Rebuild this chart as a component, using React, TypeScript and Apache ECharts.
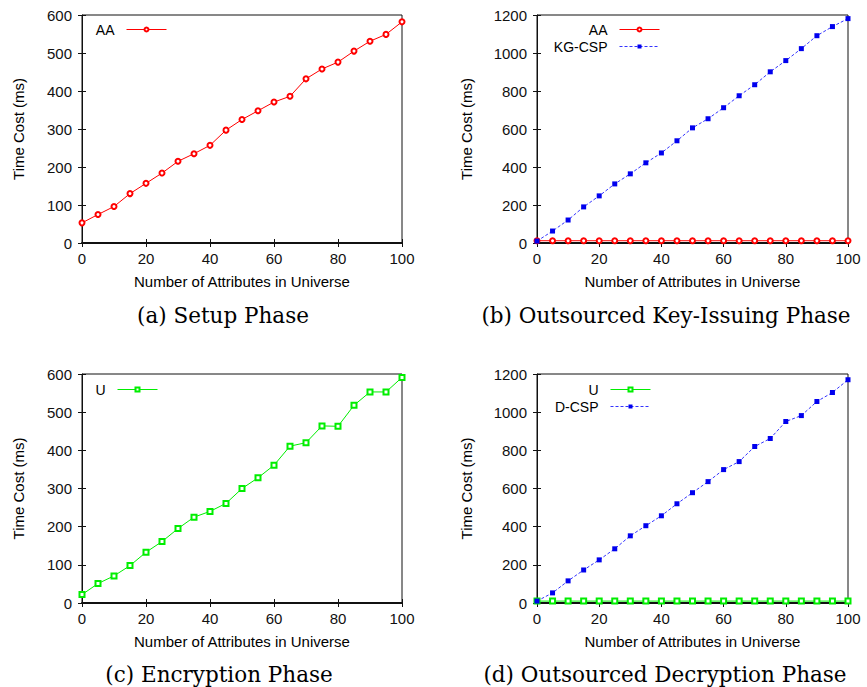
import React, { useEffect, useRef } from "react";
import * as echarts from "echarts";

const xs = [0, 5, 10, 15, 20, 25, 30, 35, 40, 45, 50, 55, 60, 65, 70, 75, 80, 85, 90, 95, 100];
const setupAA = [53, 75, 96, 130, 157, 184, 215, 235, 257, 297, 325, 348, 371, 386, 432, 458, 476, 505, 531, 549, 582];
const keyAA = [12, 12, 12, 12, 12, 12, 12, 12, 12, 12, 12, 12, 12, 12, 12, 12, 12, 12, 12, 12, 12];
const keyKG = [10, 63, 121, 190, 248, 311, 364, 422, 474, 538, 606, 654, 712, 775, 833, 901, 960, 1023, 1091, 1139, 1181];
const encU = [22, 51, 71, 98, 133, 161, 195, 225, 240, 261, 300, 328, 361, 411, 420, 464, 463, 518, 553, 553, 591];
const decU = [10, 10, 10, 10, 10, 10, 10, 10, 10, 10, 10, 10, 10, 10, 10, 10, 10, 10, 10, 10, 10];
const decD = [10, 53, 116, 173, 226, 284, 352, 405, 457, 520, 578, 636, 699, 741, 820, 862, 951, 982, 1056, 1103, 1170];
const captions = ["(a) Setup Phase", "(b) Outsourced Key-Issuing Phase", "(c) Encryption Phase", "(d) Outsourced Decryption Phase"];
const xTitle = "Number of Attributes in Universe";
const yTitle = "Time Cost (ms)";

const SANS = "Liberation Sans, Arial, Helvetica, sans-serif";

const pairs = (ys: number[]) => xs.map((x, i) => [x, ys[i]]);

export default function App() {
  const ref = useRef<HTMLDivElement>(null);
  useEffect(() => {
    document.body.style.margin = "0";
    const chart = echarts.init(ref.current!, null, { renderer: "svg" });
    const grids = [
      { left: 82, top: 15, width: 320, height: 228, ymax: 600, yint: 100, ygap: 56, cap: [223, 315] },
      { left: 537, top: 15, width: 311, height: 228, ymax: 1200, yint: 200, ygap: 63, cap: [666, 315] },
      { left: 82, top: 374, width: 320, height: 229, ymax: 600, yint: 100, ygap: 56, cap: [219, 674] },
      { left: 537, top: 374, width: 311, height: 229, ymax: 1200, yint: 200, ygap: 63, cap: [665, 674] },
    ];
    const xAxis: any[] = [];
    const yAxis: any[] = [];
    grids.forEach((g, i) => {
      xAxis.push({
        type: "value", gridIndex: i, min: 0, max: 100, interval: 20, position: "bottom",
        name: xTitle, nameLocation: "middle", nameGap: 31,
        nameTextStyle: { fontSize: 15, fontFamily: SANS, color: "#000" },
        axisLine: { show: true, lineStyle: { color: "#111", width: 2 } },
        axisTick: { show: true, inside: true, length: 4, lineStyle: { color: "#111" } },
        axisLabel: { fontSize: 15, fontFamily: SANS, color: "#111", margin: 8, formatter: (v: number) => String(v) },
        splitLine: { show: false },
      });
      xAxis.push({
        type: "value", gridIndex: i, min: 0, max: 100, interval: 20, position: "top",
        axisLine: { show: false },
        axisTick: { show: true, inside: true, length: 4, lineStyle: { color: "#111" } },
        axisLabel: { show: false }, splitLine: { show: false },
      });
      yAxis.push({
        type: "value", gridIndex: i, min: 0, max: g.ymax, interval: g.yint, position: "left",
        name: yTitle, nameLocation: "middle", nameGap: g.ygap,
        nameTextStyle: { fontSize: 15, fontFamily: SANS, color: "#000" },
        axisLine: { show: true, lineStyle: { color: "#111", width: 1 } },
        axisTick: { show: true, inside: true, length: 4, lineStyle: { color: "#111" } },
        axisLabel: { fontSize: 15, fontFamily: SANS, color: "#111", margin: 10, formatter: (v: number) => String(v) },
        splitLine: { show: false },
      });
      yAxis.push({
        type: "value", gridIndex: i, min: 0, max: g.ymax, interval: g.yint, position: "right",
        axisLine: { show: false },
        axisTick: { show: true, inside: true, length: 4, lineStyle: { color: "#111" } },
        axisLabel: { show: false }, splitLine: { show: false },
      });
    });
    const red = (name: string, data: number[], gi: number) => ({
      name, type: "line", xAxisIndex: gi * 2, yAxisIndex: gi * 2, data: pairs(data),
      symbol: "emptyCircle", symbolSize: 5, clip: false,
      lineStyle: { color: "#ff0000", width: 1 },
      itemStyle: { color: "#ff0000", borderColor: "#ff0000", borderWidth: 1 },
    });
    const green = (name: string, data: number[], gi: number) => ({
      name, type: "line", xAxisIndex: gi * 2, yAxisIndex: gi * 2, data: pairs(data),
      symbol: "emptyRect", symbolSize: 5, clip: false,
      lineStyle: { color: "#00ee00", width: 1 },
      itemStyle: { color: "#00ee00", borderColor: "#00dd00", borderWidth: 1 },
    });
    const blue = (name: string, data: number[], gi: number) => ({
      name, type: "line", xAxisIndex: gi * 2, yAxisIndex: gi * 2, data: pairs(data),
      symbol: "rect", symbolSize: 5, clip: false,
      lineStyle: { color: "#3333ff", width: 1, type: [3, 2] },
      itemStyle: { color: "#0000ee" },
    });
    const legendBase = {
      orient: "vertical", align: "right", itemWidth: 40, itemHeight: 5, itemGap: 0,
      textStyle: { fontSize: 14, lineHeight: 17, fontFamily: SANS, color: "#000", padding: [0, 7, 0, 0] },
      lineStyle: { width: 1 },
      selectedMode: false,
    };
    chart.setOption({
      animation: false,
      backgroundColor: "#fff",
      grid: grids.map((g) => ({ left: g.left, top: g.top, width: g.width, height: g.height, show: true, borderColor: "#111", borderWidth: 1, backgroundColor: "transparent" })),
      xAxis, yAxis,
      legend: [
        { ...legendBase, data: ["AA"], right: 695, top: 16 },
        { ...legendBase, data: ["AA", "KG-CSP"], right: 202, top: 16 },
        { ...legendBase, data: ["U"], right: 704, top: 376 },
        { ...legendBase, data: ["U", "D-CSP"], right: 211, top: 376 },
      ],
      series: [
        red("AA", setupAA, 0),
        red("AA", keyAA, 1),
        blue("KG-CSP", keyKG, 1),
        green("U", encU, 2),
        green("U", decU, 3),
        blue("D-CSP", decD, 3),
      ],
      graphic: grids.map((g, i) => ({
        type: "text", x: g.cap[0], y: g.cap[1],
        style: { text: captions[i], fontSize: 21.5, fontFamily: "DejaVu Serif", align: "center", verticalAlign: "middle", fill: "#000" },
      })),
    });
    return () => chart.dispose();
  }, []);
  return <div ref={ref} style={{ width: 867, height: 687 }} />;
}
